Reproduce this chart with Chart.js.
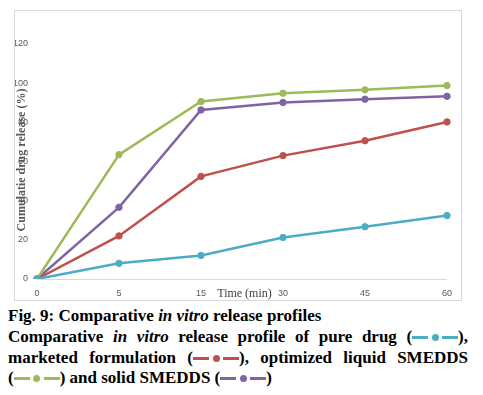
<!DOCTYPE html>
<html lang="en">
<head>
    <meta charset="UTF-8">
    <title>Comparative in vitro release profiles</title>
    <script src="https://cdn.jsdelivr.net/npm/chart.js"></script>
    <style>
        body {
            margin: 0;
            background: #fff;
            width: 483px;
            height: 395px;
            position: relative;
            overflow: hidden;
        }

        .chart-box {
            position: absolute;
            left: 14px;
            top: 10px;
            width: 448px;
            height: 291px;
            border: 1px solid #d9d9d9;
            box-sizing: border-box;
        }

        .caption {
            position: absolute;
            left: 8px;
            top: 306px;
            width: 460px;
            font-family: 'Liberation Serif', 'Times New Roman', serif;
            font-weight: bold;
            font-size: 17px;
            line-height: 20.8px;
            color: #000;
        }

        .caption .jl {
            text-align: justify;
            text-align-last: justify;
            white-space: nowrap;
        }

        .key {
            display: inline-block;
            position: relative;
            width: 46px;
            height: 8px;
            vertical-align: 1px;
        }
        .key .dash {
            position: absolute;
            top: 3px;
            width: 16px;
            height: 3px;
        }
        .key .dot {
            position: absolute;
            top: 1px;
            left: 19.5px;
            width: 7px;
            height: 7px;
            border-radius: 50%;
        }
    </style>
</head>
<body>
    <div class="chart-box">
        <canvas id="releaseChart" width="446" height="289"></canvas>
    </div>

    <div class="caption">
        <div>Fig. 9: Comparative <i>in vitro</i> release profiles</div>
        <div class="jl">Comparative <i>in vitro</i> release profile of pure drug (<span class="key" data-c="#4BACC6"></span>),</div>
        <div class="jl">marketed formulation (<span class="key" data-c="#C0504D"></span>), optimized liquid SMEDDS</div>
        <div>(<span class="key" data-c="#9BBB59"></span>) and solid SMEDDS (<span class="key" data-c="#8064A2"></span>)</div>
    </div>

<script>
// time points (min), category axis
const timeLabels = ['0', '5', '15', '30', '45', '60'];

// cumulative drug release (%)
const pureDrug   = [0, 8, 12, 21.2, 26.7, 32.4];
const marketed   = [0, 22, 52.4, 63, 70.6, 80.2];
const liquidSmedds = [0, 63.5, 90.6, 94.9, 96.6, 98.8];
const solidSmedds  = [0, 36.6, 86.3, 90.1, 91.8, 93.3];

const seriesColors = ['#4BACC6', '#C0504D', '#9BBB59', '#8064A2'];

// small legend keys in the caption
document.querySelectorAll('.key').forEach(el => {
    const c = el.dataset.c;
    el.innerHTML = '<span class="dash" style="left:0;background:' + c + '"></span>' +
        '<span class="dot" style="background:' + c + '"></span>' +
        '<span class="dash" style="left:30px;background:' + c + '"></span>';
});

function makeSet(label, values, color) {
    return {
        label: label,
        data: values,
        borderColor: color,
        backgroundColor: color,
        borderWidth: 2.5,
        pointRadius: 3.2,
        pointBorderWidth: 1,
        pointHoverRadius: 3.2,
        tension: 0,
        fill: false
    };
}

// axis titles drawn in place, like the original figure
const axisTitles = {
    id: 'axisTitles',
    afterDraw(chart) {
        const ctx = chart.ctx;
        ctx.save();
        ctx.fillStyle = '#595959';
        ctx.font = 'bold 12px "Liberation Serif", serif';
        ctx.textAlign = 'center';
        ctx.textBaseline = 'middle';
        ctx.translate(7, 149);
        ctx.rotate(-Math.PI / 2);
        ctx.fillText('Cumulatie drug release (%)', 0, 0);
        ctx.restore();

        ctx.save();
        ctx.fillStyle = '#404040';
        ctx.font = '12px "Liberation Serif", serif';
        ctx.textAlign = 'center';
        ctx.textBaseline = 'middle';
        ctx.fillText('Time (min)', 229.5, 283);
        ctx.restore();
    }
};

const ctx = document.getElementById('releaseChart').getContext('2d');
new Chart(ctx, {
    type: 'line',
    data: {
        labels: timeLabels,
        datasets: [
            makeSet('Pure drug', pureDrug, seriesColors[0]),
            makeSet('Marketed formulation', marketed, seriesColors[1]),
            makeSet('Optimized liquid SMEDDS', liquidSmedds, seriesColors[2]),
            makeSet('Solid SMEDDS', solidSmedds, seriesColors[3])
        ]
    },
    options: {
        responsive: false,
        devicePixelRatio: 1,
        animation: false,
        layout: {
            padding: { top: 33, right: 9, left: 0, bottom: 0 }
        },
        scales: {
            x: {
                offset: false,
                grid: { display: false, drawTicks: false },
                border: { display: true, color: '#d9d9d9', width: 1 },
                ticks: {
                    padding: 9,
                    color: '#595959',
                    font: { family: 'Liberation Sans', size: 9 },
                    maxRotation: 0
                },
                afterFit(scale) { scale.height = 21; }
            },
            y: {
                min: 0,
                max: 120,
                grid: { display: false, drawTicks: false },
                border: { display: false },
                ticks: {
                    stepSize: 20,
                    padding: 9,
                    color: '#595959',
                    font: { family: 'Liberation Sans', size: 9 }
                },
                afterFit(scale) { scale.width = 22; }
            }
        },
        plugins: {
            legend: { display: false },
            tooltip: { enabled: false }
        }
    },
    plugins: [axisTitles]
});
</script>
</body>
</html>
